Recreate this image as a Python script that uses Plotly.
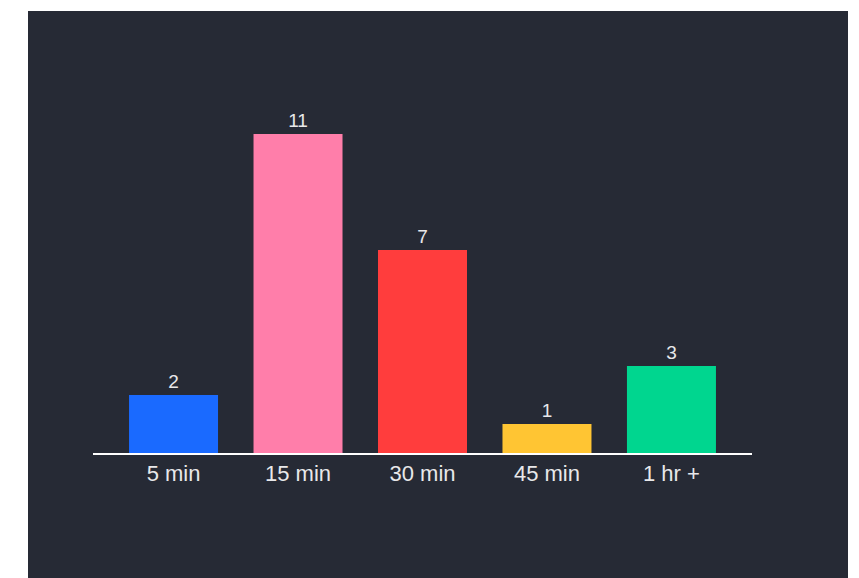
import plotly.graph_objects as go

# Time spent per session, grouped into buckets
durations = ["5 min", "15 min", "30 min", "45 min", "1 hr +"]
counts = [2, 11, 7, 1, 3]
bar_colors = ["#1a6aff", "#ff7eaa", "#ff3d3d", "#ffc533", "#00d68f"]

W, H = 859, 578
ml, mr, mt, mb = 93, 107, 105, 125
plot_w = W - ml - mr
plot_h = H - mt - mb

panel_color = "#262a35"
text_color = "#e8e8ea"

fig = go.Figure(
    go.Bar(
        x=durations,
        y=counts,
        marker=dict(color=bar_colors, line=dict(width=0)),
        width=0.715,
        text=counts,
        textposition="outside",
        textfont=dict(size=19, color=text_color, family="Liberation Sans, Arial, sans-serif"),
        cliponaxis=False,
        hoverinfo="skip",
    )
)

# dark card behind the chart, expressed in paper units
def px_to_paper_x(px):
    return (px - ml) / plot_w

def px_to_paper_y(py):
    return (H - mb - py) / plot_h

fig.add_shape(
    type="rect",
    xref="paper", yref="paper",
    x0=px_to_paper_x(28), x1=px_to_paper_x(848),
    y0=px_to_paper_y(578), y1=px_to_paper_y(11),
    fillcolor=panel_color,
    line=dict(width=0),
    layer="below",
)

fig.update_layout(
    width=W,
    height=H,
    margin=dict(l=ml, r=mr, t=mt, b=mb, pad=0),
    paper_bgcolor="white",
    plot_bgcolor="rgba(0,0,0,0)",
    showlegend=False,
    font=dict(family="Liberation Sans, Arial, sans-serif", color=text_color),
    xaxis=dict(
        range=[-0.647, 4.647],
        showline=True,
        linecolor="#ffffff",
        linewidth=2,
        showgrid=False,
        zeroline=False,
        ticks="",
        tickfont=dict(size=22, color=text_color),
        fixedrange=True,
    ),
    yaxis=dict(
        range=[0, 12],
        visible=False,
        showgrid=False,
        zeroline=False,
        fixedrange=True,
    ),
)

fig.write_html("out.html", config={"displayModeBar": False})
